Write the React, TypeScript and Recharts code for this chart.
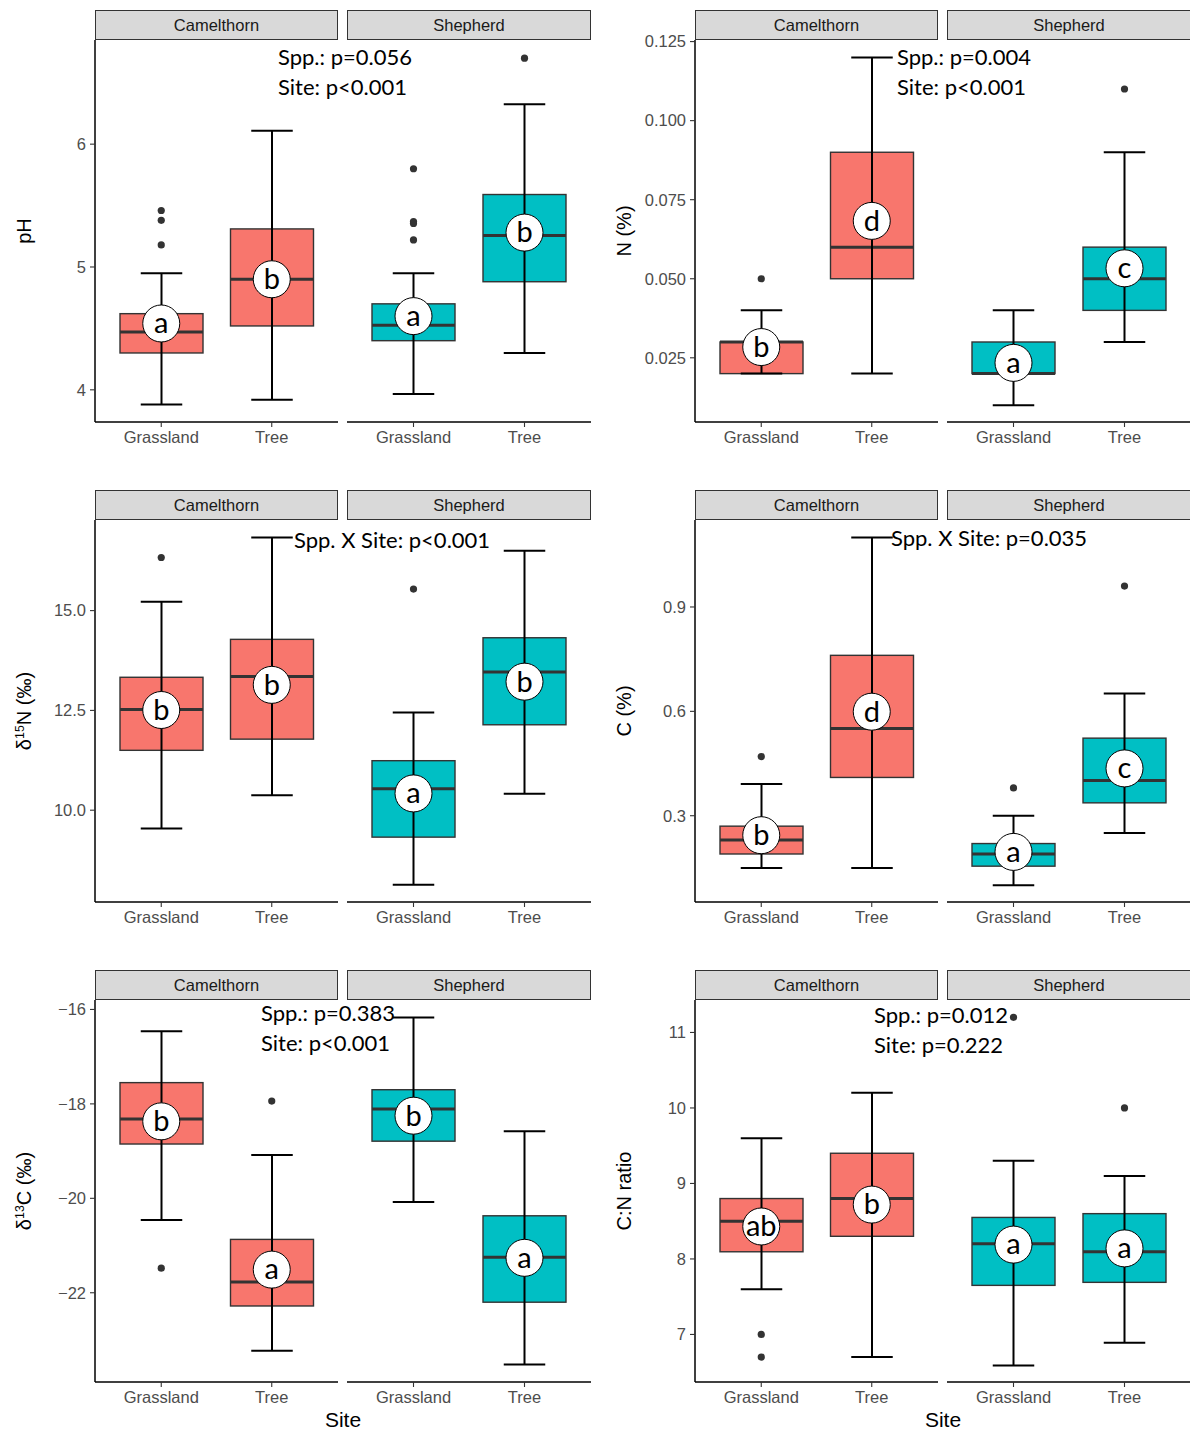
import React from 'react';
import { ComposedChart, Bar, Scatter, XAxis, YAxis } from 'recharts';

const facets = ['Camelthorn', 'Shepherd'];
const sites = ['Grassland', 'Tree'];
const fills = ['#F8766D', '#00BFC4'];

// facet, site, lower whisker, q1, median, q3, upper whisker
const phBoxes = [
  ['Camelthorn', 'Grassland', 3.88, 4.3, 4.47, 4.62, 4.95],
  ['Camelthorn', 'Tree', 3.92, 4.52, 4.9, 5.31, 6.11],
  ['Shepherd', 'Grassland', 3.965, 4.4, 4.525, 4.7, 4.95],
  ['Shepherd', 'Tree', 4.3, 4.88, 5.257, 5.59, 6.325],
];
const phOutliers = [
  ['Camelthorn', 'Grassland', 5.46], ['Camelthorn', 'Grassland', 5.38], ['Camelthorn', 'Grassland', 5.18],
  ['Shepherd', 'Grassland', 5.8], ['Shepherd', 'Grassland', 5.37], ['Shepherd', 'Grassland', 5.355],
  ['Shepherd', 'Grassland', 5.22], ['Shepherd', 'Tree', 6.7],
];
const phLetters = [
  ['Camelthorn', 'Grassland', 4.54, 'a'], ['Camelthorn', 'Tree', 4.9, 'b'],
  ['Shepherd', 'Grassland', 4.6, 'a'], ['Shepherd', 'Tree', 5.28, 'b'],
];

const nBoxes = [
  ['Camelthorn', 'Grassland', 0.02, 0.02, 0.03, 0.03, 0.04],
  ['Camelthorn', 'Tree', 0.02, 0.05, 0.06, 0.09, 0.12],
  ['Shepherd', 'Grassland', 0.01, 0.02, 0.02, 0.03, 0.04],
  ['Shepherd', 'Tree', 0.03, 0.04, 0.05, 0.06, 0.09],
];
const nOutliers = [['Camelthorn', 'Grassland', 0.05], ['Shepherd', 'Tree', 0.11]];
const nLetters = [
  ['Camelthorn', 'Grassland', 0.0284, 'b'], ['Camelthorn', 'Tree', 0.0683, 'd'],
  ['Shepherd', 'Grassland', 0.0234, 'a'], ['Shepherd', 'Tree', 0.0533, 'c'],
];

const d15nBoxes = [
  ['Camelthorn', 'Grassland', 9.54, 11.5, 12.52, 13.33, 15.22],
  ['Camelthorn', 'Tree', 10.375, 11.78, 13.35, 14.28, 16.83],
  ['Shepherd', 'Grassland', 8.13, 9.325, 10.54, 11.24, 12.45],
  ['Shepherd', 'Tree', 10.41, 12.14, 13.46, 14.32, 16.5],
];
const d15nOutliers = [['Camelthorn', 'Grassland', 16.33], ['Shepherd', 'Grassland', 15.54]];
const d15nLetters = [
  ['Camelthorn', 'Grassland', 12.51, 'b'], ['Camelthorn', 'Tree', 13.14, 'b'],
  ['Shepherd', 'Grassland', 10.42, 'a'], ['Shepherd', 'Tree', 13.22, 'b'],
];

const cBoxes = [
  ['Camelthorn', 'Grassland', 0.15, 0.19, 0.23, 0.27, 0.391],
  ['Camelthorn', 'Tree', 0.15, 0.41, 0.551, 0.761, 1.1],
  ['Shepherd', 'Grassland', 0.1, 0.155, 0.19, 0.22, 0.3],
  ['Shepherd', 'Tree', 0.25, 0.337, 0.401, 0.523, 0.651],
];
const cOutliers = [['Camelthorn', 'Grassland', 0.47], ['Shepherd', 'Grassland', 0.38], ['Shepherd', 'Tree', 0.96]];
const cLetters = [
  ['Camelthorn', 'Grassland', 0.244, 'b'], ['Camelthorn', 'Tree', 0.599, 'd'],
  ['Shepherd', 'Grassland', 0.196, 'a'], ['Shepherd', 'Tree', 0.436, 'c'],
];

const d13cBoxes = [
  ['Camelthorn', 'Grassland', -20.46, -18.85, -18.32, -17.55, -16.46],
  ['Camelthorn', 'Tree', -23.23, -22.28, -21.77, -20.87, -19.08],
  ['Shepherd', 'Grassland', -20.08, -18.79, -18.11, -17.7, -16.17],
  ['Shepherd', 'Tree', -23.52, -22.2, -21.25, -20.37, -18.58],
];
const d13cOutliers = [['Camelthorn', 'Grassland', -21.48], ['Camelthorn', 'Tree', -17.94]];
const d13cLetters = [
  ['Camelthorn', 'Grassland', -18.37, 'b'], ['Camelthorn', 'Tree', -21.51, 'a'],
  ['Shepherd', 'Grassland', -18.25, 'b'], ['Shepherd', 'Tree', -21.26, 'a'],
];

const cnBoxes = [
  ['Camelthorn', 'Grassland', 7.6, 8.095, 8.5, 8.8, 9.6],
  ['Camelthorn', 'Tree', 6.7, 8.3, 8.8, 9.4, 10.2],
  ['Shepherd', 'Grassland', 6.59, 7.65, 8.2, 8.55, 9.3],
  ['Shepherd', 'Tree', 6.89, 7.69, 8.095, 8.6, 9.1],
];
const cnOutliers = [
  ['Camelthorn', 'Grassland', 7.0], ['Camelthorn', 'Grassland', 6.7],
  ['Shepherd', 'Grassland', 11.2], ['Shepherd', 'Tree', 10.0],
];
const cnLetters = [
  ['Camelthorn', 'Grassland', 8.43, 'ab'], ['Camelthorn', 'Tree', 8.72, 'b'],
  ['Shepherd', 'Grassland', 8.19, 'a'], ['Shepherd', 'Tree', 8.14, 'a'],
];

const tickStyle = { fontSize: 16.5, fill: '#4D4D4D', fontFamily: '"Liberation Sans", Arial, sans-serif' };
const minus = (v: number) => (v < 0 ? '\u2212' + Math.abs(v) : String(v));

function BoxShape(props: any) {
  const { x, y, width, height, payload, fill } = props;
  const { lo, q1, med, q3, hi } = payload;
  const py = (v: number) => y + (height * (hi - v)) / (hi - lo);
  const cx = x + width / 2;
  const cap = width * 0.25;
  return (
    <g>
      <rect x={x} y={py(q3)} width={width} height={py(q1) - py(q3)} fill={fill} stroke="#333" strokeWidth={1.4} />
      <line x1={x} x2={x + width} y1={py(med)} y2={py(med)} stroke="#333" strokeWidth={3} />
      <line x1={cx} x2={cx} y1={py(hi)} y2={py(lo)} stroke="#000" strokeWidth={2} />
      <line x1={cx - cap} x2={cx + cap} y1={py(hi)} y2={py(hi)} stroke="#000" strokeWidth={2} />
      <line x1={cx - cap} x2={cx + cap} y1={py(lo)} y2={py(lo)} stroke="#000" strokeWidth={2} />
    </g>
  );
}

const OutlierDot = (p: any) => <circle cx={p.cx} cy={p.cy} r={3.6} fill="#333" />;

const LetterMark = (p: any) => (
  <g>
    <circle cx={p.cx} cy={p.cy} r={18.5} fill="#fff" stroke="#000" strokeWidth={1} />
    <text x={p.cx} y={p.cy} dy="0.34em" textAnchor="middle" fontSize={29} fontFamily="Lato, sans-serif" fill="#000">
      {p.payload.letter}
    </text>
  </g>
);

const TOP_PAD = 20;

function Panel({ left, top, boxes, outliers, letters, domain, ticks, fmt, yTitle, notes, noteX, noteY, showSite }: any) {
  return (
    <div style={{ position: 'absolute', left, top, width: 595, height: 480 }}>
      <div
        style={{
          position: 'absolute', left: 24, top: 231, transform: 'translate(-50%, -50%) rotate(-90deg)',
          whiteSpace: 'nowrap', fontSize: 20, color: '#000', fontFamily: '"Liberation Sans", Arial, sans-serif',
        }}
      >
        {yTitle}
      </div>
      {facets.map((f, i) => {
        const boxData = boxes.filter((r: any) => r[0] === f).map((r: any) => ({
          site: r[1], lo: r[2], q1: r[3], med: r[4], q3: r[5], hi: r[6],
        }));
        const outData = outliers.filter((r: any) => r[0] === f).map((r: any) => ({ site: r[1], v: r[2] }));
        const letData = letters.filter((r: any) => r[0] === f).map((r: any) => ({ site: r[1], v: r[2], letter: r[3] }));
        const stripLeft = i === 0 ? 95 : 347;
        const stripW = i === 0 ? 243 : 244;
        const chartLeft = i === 0 ? 0 : 347;
        const chartW = i === 0 ? 338 : 244;
        return (
          <React.Fragment key={f}>
            <div
              style={{
                position: 'absolute', left: stripLeft, top: 10, width: stripW, height: 30, boxSizing: 'border-box',
                background: '#D9D9D9', border: '1px solid #333', textAlign: 'center', lineHeight: '28px',
                fontSize: 16.5, color: '#1A1A1A', fontFamily: '"Liberation Sans", Arial, sans-serif',
              }}
            >
              {f}
            </div>
            <div style={{ position: 'absolute', left: chartLeft, top: 40 - TOP_PAD }}>
              <ComposedChart width={chartW} height={412 + TOP_PAD} data={boxData} margin={{ top: TOP_PAD, right: 0, bottom: 0, left: 0 }}>
                <XAxis
                  dataKey="site" type="category" allowDuplicatedCategory={false} ticks={sites}
                  padding={{ left: 11, right: 11 }} height={30} tickSize={5} tickMargin={4} interval={0}
                  tick={tickStyle} tickLine={{ stroke: '#333', strokeWidth: 1.1 }}
                  axisLine={{ stroke: '#000', strokeWidth: 1.5 }}
                />
                <YAxis
                  hide={i === 1} type="number" width={95} domain={domain} ticks={ticks} interval={0}
                  allowDataOverflow tickFormatter={fmt} tickSize={5} tickMargin={4} tick={tickStyle}
                  tickLine={{ stroke: '#333', strokeWidth: 1.1 }} axisLine={{ stroke: '#000', strokeWidth: 1.5 }}
                />
                <Bar dataKey={(d: any) => [d.lo, d.hi]} barSize={83} fill={fills[i]} shape={BoxShape} isAnimationActive={false} />
                {outData.length > 0 && (
                  <Scatter data={outData} dataKey="v" shape={OutlierDot} isAnimationActive={false} />
                )}
                <Scatter data={letData} dataKey="v" shape={LetterMark} isAnimationActive={false} />
              </ComposedChart>
            </div>
          </React.Fragment>
        );
      })}
      <div
        style={{
          position: 'absolute', left: noteX, top: noteY, whiteSpace: 'pre', fontSize: 22, lineHeight: '30px',
          fontFamily: 'Lato, sans-serif', color: '#000',
        }}
      >
        {notes.join('\n')}
      </div>
      {showSite && (
        <div
          style={{
            position: 'absolute', left: 343, top: 460, transform: 'translate(-50%, -50%)', fontSize: 21,
            fontFamily: '"Liberation Sans", Arial, sans-serif', color: '#000',
          }}
        >
          Site
        </div>
      )}
    </div>
  );
}

export default function App() {
  return (
    <div style={{ position: 'absolute', left: 0, top: 0, width: 1190, height: 1432, background: '#fff', overflow: 'hidden' }}>
      <Panel
        left={0} top={0} boxes={phBoxes} outliers={phOutliers} letters={phLetters}
        domain={[3.738, 6.848]} ticks={[4, 5, 6]} fmt={(v: number) => String(v)} yTitle="pH"
        notes={['Spp.: p=0.056', 'Site: p<0.001']} noteX={278} noteY={42}
      />
      <Panel
        left={600} top={0} boxes={nBoxes} outliers={nOutliers} letters={nLetters}
        domain={[0.0047, 0.1255]} ticks={[0.025, 0.05, 0.075, 0.1, 0.125]} fmt={(v: number) => v.toFixed(3)} yTitle="N (%)"
        notes={['Spp.: p=0.004', 'Site: p<0.001']} noteX={297} noteY={42}
      />
      <Panel
        left={0} top={480} boxes={d15nBoxes} outliers={d15nOutliers} letters={d15nLetters}
        domain={[7.7, 17.27]} ticks={[10, 12.5, 15]} fmt={(v: number) => v.toFixed(1)}
        yTitle={<span>δ<sup style={{ fontSize: '0.62em' }}>15</sup>N (‰)</span>}
        notes={['Spp. X Site: p<0.001']} noteX={294} noteY={45}
      />
      <Panel
        left={600} top={480} boxes={cBoxes} outliers={cOutliers} letters={cLetters}
        domain={[0.052, 1.15]} ticks={[0.3, 0.6, 0.9]} fmt={(v: number) => v.toFixed(1)} yTitle="C (%)"
        notes={['Spp. X Site: p=0.035']} noteX={291} noteY={43}
      />
      <Panel
        left={0} top={960} boxes={d13cBoxes} outliers={d13cOutliers} letters={d13cLetters}
        domain={[-23.89, -15.8]} ticks={[-22, -20, -18, -16]} fmt={minus}
        yTitle={<span>δ<sup style={{ fontSize: '0.62em' }}>13</sup>C (‰)</span>}
        notes={['Spp.: p=0.383', 'Site: p<0.001']} noteX={261} noteY={38} showSite
      />
      <Panel
        left={600} top={960} boxes={cnBoxes} outliers={cnOutliers} letters={cnLetters}
        domain={[6.37, 11.43]} ticks={[7, 8, 9, 10, 11]} fmt={(v: number) => String(v)} yTitle="C:N ratio"
        notes={['Spp.: p=0.012', 'Site: p=0.222']} noteX={274} noteY={40} showSite
      />
    </div>
  );
}
